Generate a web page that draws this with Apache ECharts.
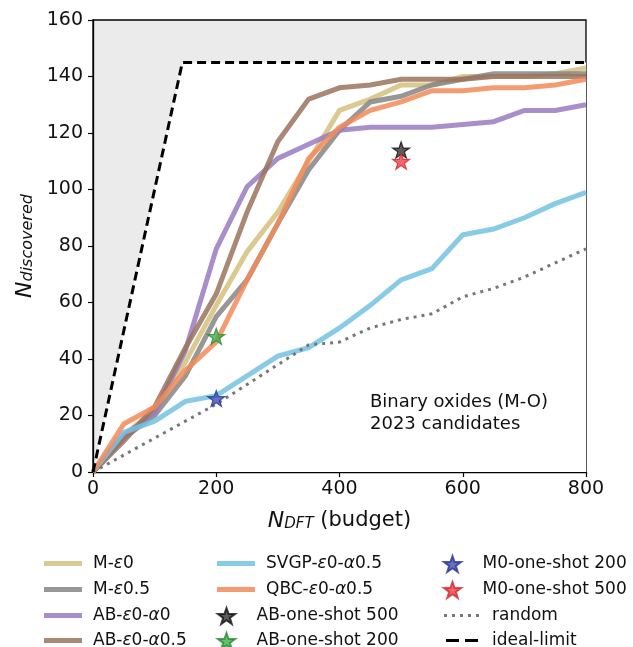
<!DOCTYPE html>
<html><head><meta charset="utf-8">
<script src="https://cdn.jsdelivr.net/npm/echarts@6/dist/echarts.min.js"></script>
<style>html,body{margin:0;padding:0;background:#fff}#c{width:633px;height:647px}</style>
</head><body><div id="c"></div>
<script>
// ---- data ----
const budget = [0, 50, 100, 150, 200, 250, 300, 350, 400, 450, 500, 550, 600, 650, 700, 750, 800];
const mEps0      = [0, 13, 22, 39, 59, 78, 92, 110, 128, 132, 137, 137, 140, 140, 140, 141, 143];
const mEps05     = [0, 12, 20, 34, 55, 68, 88, 107, 121, 131, 133, 137, 139, 141, 141, 141, 141];
const abEps0A0   = [0, 13, 21, 43, 79, 101, 111, 116, 121, 122, 122, 122, 123, 124, 128, 128, 130];
const abEps0A05  = [0, 11, 23, 44, 63, 92, 117, 132, 136, 137, 139, 139, 139, 140, 140, 140, 140];
const svgp       = [0, 14, 18, 25, 27, 34, 41, 44, 51, 59, 68, 72, 84, 86, 90, 95, 99];
const qbc        = [0, 17, 23, 36, 46, 68, 88, 111, 122, 128, 131, 135, 135, 136, 136, 137, 139];
const randomSel  = [0, 6, 12, 18, 24, 31, 38, 45, 46, 51, 54, 56, 62, 65, 69, 74, 79];
const idealX = [0, 145, 800];
const idealY = [0, 145, 145];
const abOneShot500 = [500, 114];
const abOneShot200 = [200, 48];
const m0OneShot200 = [200, 26];
const m0OneShot500 = [500, 110];
const xMin = 0, xMax = 800, xStep = 200;
const yMin = 0, yMax = 160, yStep = 20;
const legendColumns = [
  ['M-ε0', 'M-ε0.5', 'AB-ε0-α0', 'AB-ε0-α0.5'],
  ['SVGP-ε0-α0.5', 'QBC-ε0-α0.5', 'AB-one-shot 500', 'AB-one-shot 200'],
  ['M0-one-shot 200', 'M0-one-shot 500', 'random', 'ideal-limit']
];

// ---- helpers ----
const pair = (xs, ys) => xs.map((x, i) => [x, ys[i]]);
const FONT = 'DejaVu Sans';
const STAR = 'path://M50,2 L61.8,36.2 L97.6,36.2 L68.6,57.4 L79.4,91.6 L50,70.4 L20.6,91.6 L31.4,57.4 L2.4,36.2 L38.2,36.2 Z';
const ICON_LINE = 'path://M0,0 L38,0 L38,5 L0,5 Z';
const ICON_DOT = 'path://M1,0h3v3h-3z M9,0h3v3h-3z M17,0h3v3h-3z M25,0h3v3h-3z M33,0h3v3h-3z M0,0h0.01v3h-0.01z M38,0h0.01v3h-0.01z';
const ICON_DASH = 'path://M3,0h13v3h-13z M22,0h13v3h-13z M0,0h0.01v3h-0.01z M38,0h0.01v3h-0.01z';

function lineSeries(name, ys, color) {
  return {
    name, type: 'line', data: pair(budget, ys), symbol: 'none', showSymbol: false,
    lineStyle: { color, width: 5, opacity: 0.85, cap: 'butt', join: 'miter' },
    itemStyle: { color, opacity: 0.85 }, z: 3, animation: false
  };
}
function starSeries(name, pt, color, border) {
  return {
    name, type: 'scatter', data: [pt], symbol: STAR, symbolSize: 17, symbolKeepAspect: true,
    itemStyle: { color, opacity: 0.8, borderColor: border, borderWidth: 1.2 }, z: 5, animation: false
  };
}

const series = [
  { name: 'idealFill', type: 'line', data: pair(idealX, idealY), symbol: 'none', silent: true,
    lineStyle: { width: 0, opacity: 0 }, areaStyle: { color: '#ffffff', opacity: 1 }, z: 1, animation: false },
  lineSeries('M-ε0', mEps0, '#d4bf7c'),
  lineSeries('M-ε0.5', mEps05, '#858585'),
  lineSeries('AB-ε0-α0', abEps0A0, '#9a7bbf'),
  lineSeries('AB-ε0-α0.5', abEps0A05, '#9a735d'),
  lineSeries('SVGP-ε0-α0.5', svgp, '#72c2e3'),
  lineSeries('QBC-ε0-α0.5', qbc, '#f28b58'),
  starSeries('AB-one-shot 500', abOneShot500, '#333333', '#111111'),
  starSeries('AB-one-shot 200', abOneShot200, '#3cb04a', '#2a8a35'),
  starSeries('M0-one-shot 200', m0OneShot200, '#3f4fb5', '#2a3590'),
  starSeries('M0-one-shot 500', m0OneShot500, '#f04048', '#d02a32'),
  { name: 'random', type: 'line', data: pair(budget, randomSel), symbol: 'none',
    lineStyle: { color: '#777777', width: 3, type: [3, 5] }, itemStyle: { color: '#777777' }, z: 4, animation: false },
  { name: 'ideal-limit', type: 'line', data: pair(idealX, idealY), symbol: 'none',
    lineStyle: { color: '#000000', width: 3, type: [9, 5] }, itemStyle: { color: '#000000' }, z: 6, animation: false }
];

const legendText = {
  fontFamily: FONT, fontSize: 17, color: '#111', padding: [0, 0, 0, 6], lineHeight: 16,
  rich: { i: { fontFamily: FONT, fontSize: 17, fontStyle: 'italic', color: '#111', lineHeight: 16 } }
};
function iconFor(name) {
  if (name === 'random') return ICON_DOT;
  if (name === 'ideal-limit') return ICON_DASH;
  if (name.indexOf('one-shot') >= 0) return STAR;
  return ICON_LINE;
}
const colLeft = [44, 217, 443];
const rowCenter = [563, 589, 615, 640];
const legends = [];
legendColumns.forEach((col, ci) => col.forEach((n, ri) => {
  legends.push({
    orient: 'vertical', left: colLeft[ci], top: rowCenter[ri] - 8, padding: 0,
    itemWidth: 38, itemHeight: 16, symbolKeepAspect: true,
    data: [{ name: n, icon: iconFor(n) }], selectedMode: false, textStyle: legendText,
    formatter: s => s.replace(/([εα])/g, '{i|$1}')
  });
}));

const option = {
  backgroundColor: '#ffffff',
  animation: false,
  grid: { left: 93, right: 47, top: 20, bottom: 175, show: true, backgroundColor: '#ebebeb',
          borderColor: '#000', borderWidth: 1.3 },
  xAxis: {
    type: 'value', min: xMin, max: xMax, interval: xStep,
    name: '{n|N}{s|DFT}{t| (budget)}', nameLocation: 'middle', nameGap: 38,
    nameTextStyle: { rich: {
      n: { fontFamily: FONT, fontSize: 22, fontStyle: 'italic', color: '#111' },
      s: { fontFamily: FONT, fontSize: 15, fontStyle: 'italic', color: '#111', verticalAlign: 'bottom', lineHeight: 8 },
      t: { fontFamily: FONT, fontSize: 21, color: '#111' } } },
    axisLine: { show: true, lineStyle: { color: '#000', width: 1.3 } },
    axisTick: { show: true, inside: false, length: 5, lineStyle: { color: '#000', width: 1.2 } },
    axisLabel: { fontFamily: FONT, fontSize: 19, color: '#111', margin: 8 },
    splitLine: { show: false }
  },
  yAxis: {
    type: 'value', min: yMin, max: yMax, interval: yStep,
    name: '{n|N}{s|discovered}', nameLocation: 'middle', nameGap: 50, nameRotate: 90,
    nameTextStyle: { rich: {
      n: { fontFamily: FONT, fontSize: 22, fontStyle: 'italic', color: '#111' },
      s: { fontFamily: FONT, fontSize: 16, fontStyle: 'italic', color: '#111', verticalAlign: 'bottom', lineHeight: 8 } } },
    axisLine: { show: true, lineStyle: { color: '#000', width: 1.3 } },
    axisTick: { show: true, inside: false, length: 5, lineStyle: { color: '#000', width: 1.2 } },
    axisLabel: { fontFamily: FONT, fontSize: 19, color: '#111', margin: 10 },
    splitLine: { show: false }
  },
  legend: legends,
  graphic: [{
    type: 'text', left: 370, top: 391, z: 10,
    style: { text: 'Binary oxides (M-O)\n2023 candidates', font: '18px "DejaVu Sans"', lineHeight: 22, fill: '#111' }
  }],
  series
};
const chart = echarts.init(document.getElementById('c'), null, { renderer: 'canvas' });
chart.setOption(option);
</script>
</body></html>
